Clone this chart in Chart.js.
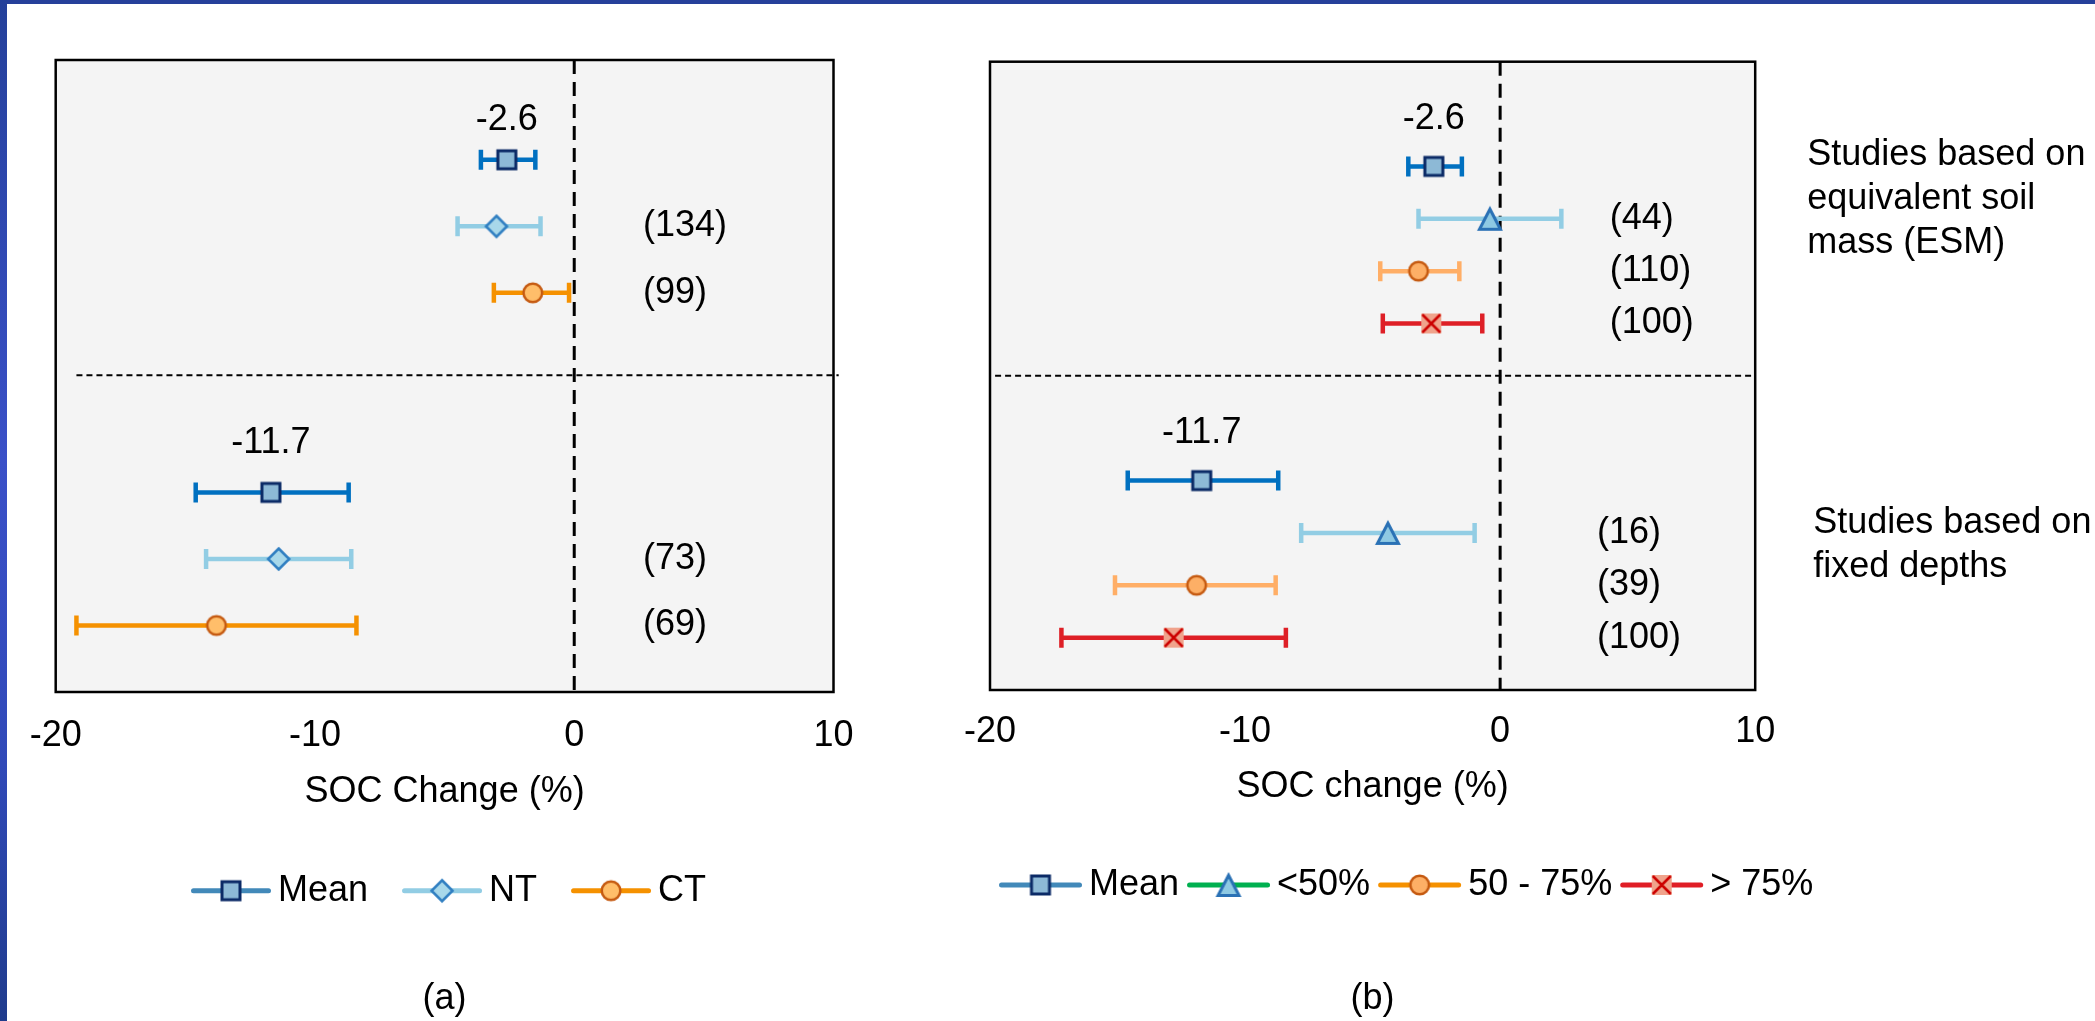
<!DOCTYPE html>
<html>
<head>
<meta charset="utf-8">
<script src="https://cdn.jsdelivr.net/npm/chart.js@4.4.1/dist/chart.umd.min.js"></script>
<style>
  html, body { margin: 0; padding: 0; background: #fff; }
  body { width: 2095px; height: 1021px; position: relative; overflow: hidden; }
  #edgeTop { position: absolute; left: 0; top: 0; width: 2095px; height: 4px; background: #26409a; }
  #edgeLeft { position: absolute; left: 0; top: 0; width: 7px; height: 1021px;
    background: linear-gradient(to bottom, #24409a, #3a50c8 45%, #3049b8 75%, #1f3b8c); }
  canvas { position: absolute; top: 0; }
  #chartA { left: 0; }
  #chartB { left: 900px; }
</style>
</head>
<body>
<div id="edgeTop"></div>
<div id="edgeLeft"></div>
<canvas id="chartA" width="900" height="1021"></canvas>
<canvas id="chartB" width="1195" height="1021"></canvas>
<script>
// general variables
let family = "'Liberation Sans', Arial, sans-serif";
let font = { size: 36, family: family, weight: "normal" };
let cssFont = "36px " + family;

Chart.defaults.font.family = family;
Chart.defaults.font.size = 36;
Chart.defaults.color = "#000";

let xTicks = [-20, -10, 0, 10];

// ! panel (a) data: [ESM group, fixed depth group]
let meanA = [-2.6, -11.7];
let meanLowA = [-3.6, -14.6];
let meanHighA = [-1.5, -8.7];
let ntA = [-3.0, -11.4];
let ntLowA = [-4.5, -14.2];
let ntHighA = [-1.3, -8.6];
let ctA = [-1.6, -13.8];
let ctLowA = [-3.1, -19.2];
let ctHighA = [-0.2, -8.4];
let ntCountA = [134, 73];
let ctCountA = [99, 69];
// row slot of every series inside the two groups
let meanRowA = [1, 6];
let ntRowA = [2, 7];
let ctRowA = [3, 8];

// ! panel (b) data
let meanB = [-2.6, -11.7];
let meanLowB = [-3.6, -14.6];
let meanHighB = [-1.5, -8.7];
let lowB = [-0.4, -4.4];
let lowLowB = [-3.2, -7.8];
let lowHighB = [2.4, -1.0];
let midB = [-3.2, -11.9];
let midLowB = [-4.7, -15.1];
let midHighB = [-1.6, -8.8];
let highB = [-2.7, -12.8];
let highLowB = [-4.6, -17.2];
let highHighB = [-0.7, -8.4];
let lowCountB = [44, 16];
let midCountB = [110, 39];
let highCountB = [100, 100];
let meanRowB = [2, 8];
let lowRowB = [3, 9];
let midRowB = [4, 10];
let highRowB = [5, 11];

function points(values, rows) {
  return values.map((v, i) => ({ x: v, y: rows[i] }));
}

// marker images, used for the points and the legend
function marker(shape, fill, stroke) {
  let c = document.createElement("canvas");
  c.width = 32;
  c.height = 32;
  let g = c.getContext("2d");
  g.translate(16, 16);
  g.fillStyle = fill;
  g.strokeStyle = stroke;
  g.lineWidth = 2.5;
  g.beginPath();
  if (shape === "square") {
    g.lineWidth = 3;
    g.rect(-9, -9, 18, 18);
  } else if (shape === "diamond") {
    g.moveTo(0, -10.5); g.lineTo(10.5, 0); g.lineTo(0, 10.5); g.lineTo(-10.5, 0); g.closePath();
  } else if (shape === "circle") {
    g.arc(0, 0, 9.3, 0, Math.PI * 2);
  } else if (shape === "triangle") {
    g.lineWidth = 3;
    g.moveTo(0, -9.8); g.lineTo(10.5, 10.5); g.lineTo(-10.5, 10.5); g.closePath();
  } else if (shape === "cross") {
    g.rect(-10, -10, 20, 20);
    g.fill();
    g.beginPath();
    g.moveTo(-9, -9); g.lineTo(9, 9);
    g.moveTo(9, -9); g.lineTo(-9, 9);
    g.stroke();
    return c;
  }
  g.fill();
  g.stroke();
  return c;
}

let mMean = marker("square", "#8db9d6", "#0b2a66");
let mNT = marker("diamond", "#a8d8ea", "#2f7ec1");
let mCT = marker("circle", "#ffbe6a", "#c55a11");
let mLow = marker("triangle", "#8ec9e3", "#2a71b5");
let mMid = marker("circle", "#fdaf66", "#c55a11");
let mHigh = marker("cross", "#f0a38c", "#cc0000");

// error bars, zero line, frame, labels and legend
const forestDecor = {
  id: "forestDecor",
  beforeDatasetsDraw(chart, args, opts) {
    const { ctx, chartArea: a, scales: { x, y } } = chart;
    ctx.save();
    ctx.fillStyle = "#f4f4f4";
    ctx.fillRect(a.left, a.top, a.width, a.height);

    // group divider
    ctx.strokeStyle = "#000";
    ctx.lineWidth = 2;
    ctx.setLineDash([6, 4]);
    let yd = y.getPixelForValue(opts.divider);
    ctx.beginPath();
    ctx.moveTo(x.getPixelForValue(opts.dividerSpan[0]), yd);
    ctx.lineTo(x.getPixelForValue(opts.dividerSpan[1]), yd);
    ctx.stroke();

    // zero line
    ctx.lineWidth = 3;
    ctx.setLineDash([14, 8]);
    let x0 = x.getPixelForValue(0);
    ctx.beginPath();
    ctx.moveTo(x0, a.top);
    ctx.lineTo(x0, a.bottom);
    ctx.stroke();

    ctx.setLineDash([]);
    ctx.lineWidth = 2.5;
    ctx.strokeRect(a.left, a.top, a.width, a.height);

    // error bars
    chart.data.datasets.forEach((ds) => {
      ctx.strokeStyle = ds.barColor;
      ctx.lineWidth = 4.5;
      ds.data.forEach((p, j) => {
        let py = y.getPixelForValue(p.y);
        let lo = x.getPixelForValue(ds.low[j]);
        let hi = x.getPixelForValue(ds.high[j]);
        ctx.beginPath();
        ctx.moveTo(lo, py); ctx.lineTo(hi, py);
        ctx.moveTo(lo, py - 10); ctx.lineTo(lo, py + 10);
        ctx.moveTo(hi, py - 10); ctx.lineTo(hi, py + 10);
        ctx.stroke();
      });
    });
    ctx.restore();
  },

  afterDatasetsDraw(chart, args, opts) {
    const { ctx, chartArea: a, scales: { x, y } } = chart;
    ctx.save();
    ctx.font = cssFont;
    ctx.fillStyle = "#000";
    ctx.textBaseline = "middle";

    chart.data.datasets.forEach((ds) => {
      ds.data.forEach((p, j) => {
        let py = y.getPixelForValue(p.y);
        // mean value above the marker
        if (ds.showValue) {
          ctx.textAlign = "center";
          ctx.fillText(p.x.toFixed(1), x.getPixelForValue(p.x), py - opts.valueGap[j]);
        }
        // number of observations
        if (ds.counts) {
          ctx.textAlign = "left";
          ctx.fillText("(" + ds.counts[j] + ")", x.getPixelForValue(opts.countAt[j]), py);
        }
      });
    });

    // notes on the right side
    ctx.textAlign = "left";
    (opts.notes || []).forEach((note) => {
      let ny = y.getPixelForValue(note.y);
      note.lines.forEach((line, k) => {
        ctx.fillText(line, a.right + note.dx, ny + k * 44);
      });
    });

    // legend: line + marker, then the label
    let lg = opts.legend;
    let lx = a.left + lg.left;
    let ly = a.bottom + lg.top;
    chart.data.datasets.forEach((ds) => {
      ctx.strokeStyle = ds.legendColor;
      ctx.lineWidth = 5;
      ctx.lineCap = "round";
      ctx.beginPath();
      ctx.moveTo(lx + 2.5, ly);
      ctx.lineTo(lx + lg.lineLength - 2.5, ly);
      ctx.stroke();
      let mk = ds.pointStyle;
      ctx.drawImage(mk, lx + lg.lineLength / 2 - mk.width / 2, ly - mk.height / 2);
      ctx.fillText(ds.label, lx + lg.lineLength + 7, ly);
      lx += lg.lineLength + 7 + ctx.measureText(ds.label).width + lg.gap;
    });
    ctx.restore();
  },
};

function xAxis(title, tickPad, axisHeight, titlePad) {
  return {
    type: "linear",
    min: xTicks[0],
    max: xTicks[xTicks.length - 1],
    afterFit: (scale) => { scale.height = axisHeight; },
    grid: { display: false, drawTicks: false },
    border: { display: false },
    ticks: { stepSize: xTicks[1] - xTicks[0], font: font, color: "#000", padding: tickPad, maxRotation: 0 },
    title: { display: true, text: title, font: font, color: "#000", padding: { top: 0, bottom: titlePad } },
  };
}

// ! panel (a)
let chartA = document.querySelector("#chartA");
new Chart(chartA, {
  type: "scatter",
  plugins: [forestDecor],
  options: {
    responsive: false,
    animation: false,
    events: [],
    layout: { padding: { left: 55.7, right: 66.5, top: 60, bottom: 0 } },
    plugins: {
      legend: { display: false },
      tooltip: { enabled: false },
      title: {
        display: true, text: "(a)", position: "bottom", font: font, color: "#000",
        padding: { top: 146.8, bottom: 0.4 },
      },
      forestDecor: {
        divider: 4.24,
        dividerSpan: [-19.2, 10.2],
        countAt: [2.65, 2.65],
        valueGap: [40, 49],
        legend: { left: 135.3, top: 198.7, lineLength: 80, gap: 34 },
      },
    },
    scales: {
      x: xAxis("SOC Change (%)", 22.4, 138.6, 17),
      y: { type: "linear", display: false, reverse: true, min: -0.5, max: 9 },
    },
  },
  data: {
    datasets: [
      {
        label: "Mean", data: points(meanA, meanRowA), low: meanLowA, high: meanHighA,
        barColor: "#0070c0", legendColor: "#4289b9", pointStyle: mMean, pointRadius: 11, showValue: true,
      },
      {
        label: "NT", data: points(ntA, ntRowA), low: ntLowA, high: ntHighA, counts: ntCountA,
        barColor: "#92cde4", legendColor: "#92cde4", pointStyle: mNT, pointRadius: 11,
      },
      {
        label: "CT", data: points(ctA, ctRowA), low: ctLowA, high: ctHighA, counts: ctCountA,
        barColor: "#f59100", legendColor: "#f59100", pointStyle: mCT, pointRadius: 11,
      },
    ],
  },
});

// ! panel (b)
let chartB = document.querySelector("#chartB");
new Chart(chartB, {
  type: "scatter",
  plugins: [forestDecor],
  options: {
    responsive: false,
    animation: false,
    events: [],
    layout: { padding: { left: 90, right: 339.8, top: 61.7, bottom: 0 } },
    plugins: {
      legend: { display: false },
      tooltip: { enabled: false },
      title: {
        display: true, text: "(b)", position: "bottom", font: font, color: "#000",
        padding: { top: 150.8, bottom: 0.4 },
      },
      forestDecor: {
        divider: 6,
        dividerSpan: [-19.8, 10],
        countAt: [4.3, 3.8],
        valueGap: [47, 47],
        legend: { left: 9, top: 195, lineLength: 83, gap: 8 },
        notes: [
          { lines: ["Studies based on", "equivalent soil", "mass (ESM)"], y: 1.78, dx: 52 },
          { lines: ["Studies based on", "fixed depths"], y: 8.82, dx: 58 },
        ],
      },
    },
    scales: {
      x: xAxis("SOC change (%)", 20.1, 136.6, 18),
      y: { type: "linear", display: false, reverse: true, min: 0, max: 12 },
    },
  },
  data: {
    datasets: [
      {
        label: "Mean", data: points(meanB, meanRowB), low: meanLowB, high: meanHighB,
        barColor: "#0070c0", legendColor: "#4289b9", pointStyle: mMean, pointRadius: 11, showValue: true,
      },
      {
        label: "<50%", data: points(lowB, lowRowB), low: lowLowB, high: lowHighB, counts: lowCountB,
        barColor: "#92cde4", legendColor: "#00b050", pointStyle: mLow, pointRadius: 11,
      },
      {
        label: "50 - 75%", data: points(midB, midRowB), low: midLowB, high: midHighB, counts: midCountB,
        barColor: "#ffae66", legendColor: "#f59100", pointStyle: mMid, pointRadius: 11,
      },
      {
        label: "> 75%", data: points(highB, highRowB), low: highLowB, high: highHighB, counts: highCountB,
        barColor: "#de1f26", legendColor: "#e01e26", pointStyle: mHigh, pointRadius: 11,
      },
    ],
  },
});
</script>
</body>
</html>
